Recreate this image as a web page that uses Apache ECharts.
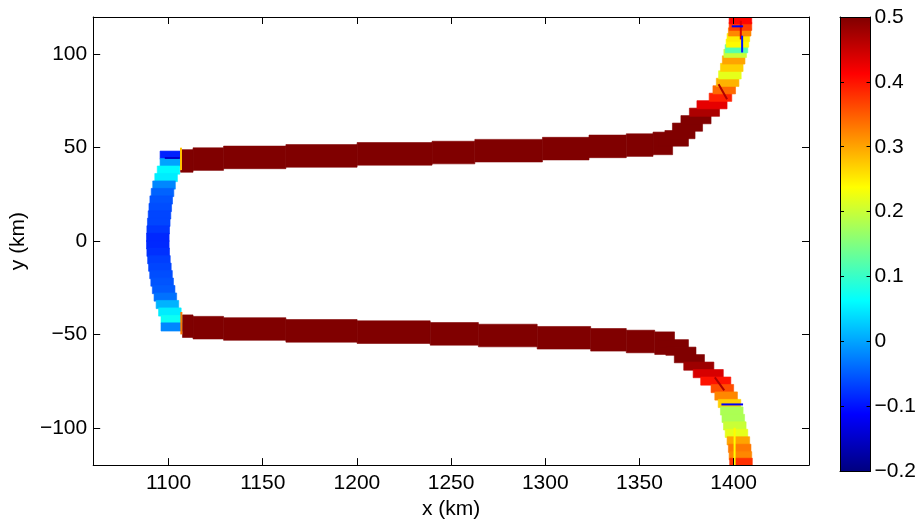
<!DOCTYPE html>
<html><head><meta charset="utf-8">
<script src="https://cdn.jsdelivr.net/npm/echarts@6/dist/echarts.min.js"></script>
<style>html,body{margin:0;padding:0;background:#fff}#c{width:919px;height:525px}</style>
</head><body><div id="c"></div>
<script>
// ---- tick labels ----
const xTicks = [1100, 1150, 1200, 1250, 1300, 1350, 1400];
const yTicks = [-100, -50, 0, 50, 100];
const cbTicks = [-0.2, -0.1, 0, 0.1, 0.2, 0.3, 0.4, 0.5];

// ---- upper straight band: blocks [x0, x1], centre y, value ----
const upperX0 = [1106.4, 1113.0, 1129.2, 1162.3, 1200.1, 1239.9, 1262.6, 1298.5, 1323.2, 1343.0, 1357.2];
const upperX1 = [1113.0, 1129.2, 1162.3, 1200.1, 1239.9, 1262.6, 1298.5, 1323.2, 1343.0, 1357.2, 1367.6];
const upperY  = [42.9, 43.9, 44.8, 45.6, 46.7, 47.4, 48.4, 49.5, 50.7, 51.4, 52.3];
const upperV  = [0.5, 0.5, 0.5, 0.5, 0.5, 0.5, 0.5, 0.5, 0.5, 0.5, 0.5];

// ---- lower straight band ----
const lowerX0 = [1107.4, 1113.0, 1129.2, 1162.3, 1200.1, 1238.9, 1264.5, 1295.7, 1324.1, 1343.0, 1358.1];
const lowerX1 = [1113.0, 1129.2, 1162.3, 1200.1, 1238.9, 1264.5, 1295.7, 1324.1, 1343.0, 1358.1, 1368.6];
const lowerY  = [-45.6, -46.4, -47.1, -48.1, -48.8, -49.7, -50.6, -51.8, -52.9, -53.8, -54.7];
const lowerV  = [0.5, 0.5, 0.5, 0.5, 0.5, 0.5, 0.5, 0.5, 0.5, 0.5, 0.5];

// ---- left arc cells: centre x, centre y, value ----
const arcX = [1101.5, 1101.5, 1100, 1098.7, 1097.6, 1096.8, 1096.1, 1095.6, 1095.2, 1094.8, 1094.5, 1094.3,
              1094.3, 1094.5, 1094.9, 1095.4, 1096, 1096.6, 1097.4, 1098.3, 1099.4, 1100.7, 1102, 1102];
const arcY = [46, 42, 38, 34, 30, 26, 22, 18, 14, 10, 6, 2, -2, -6, -10, -14, -18, -22, -26, -30, -34, -38, -42, -46];
const arcV = [-0.09, 0.0, 0.06, 0.05, -0.02, -0.045, -0.055, -0.06, -0.065, -0.065, -0.075, -0.085,
              -0.085, -0.08, -0.07, -0.065, -0.06, -0.055, -0.05, -0.035, 0.01, 0.05, 0.07, -0.02];

// ---- upper bend, diagonal part ----
const udX = [1368, 1371.5, 1375.5, 1380, 1384.5, 1388.5];
const udY = [53, 57, 61, 65, 69, 73];
const udV = [0.5, 0.5, 0.5, 0.5, 0.47, 0.43];
// ---- upper bend, steep part ----
const ubX = [1393, 1395, 1396.8, 1398, 1399, 1400, 1400.8, 1401.5, 1402, 1402.5, 1403.2, 1403.6, 1403.6];
const ubY = [77, 81, 85, 89, 93, 97, 100.5, 103, 106, 109, 112, 115, 118.5];
const ubV = [0.39, 0.34, 0.29, 0.22, 0.27, 0.3, 0.2, 0.12, 0.24, 0.25, 0.32, 0.37, 0.41];

// ---- lower bend, diagonal part ----
const ldX = [1368, 1372, 1376.5, 1381.5, 1386.5, 1390.5];
const ldY = [-55, -59, -63, -67, -71, -75];
const ldV = [0.5, 0.5, 0.5, 0.48, 0.44, 0.4];
// ---- lower bend, steep part ----
const lbX = [1394, 1396, 1397.8, 1399, 1399.8, 1400.6, 1401.5, 1402.5, 1403.2, 1403.6, 1403.9];
const lbY = [-79, -83, -87, -91, -95, -99, -103, -107, -111, -115, -118.5];
const lbV = [0.36, 0.32, 0.27, 0.18, 0.18, 0.2, 0.22, 0.3, 0.33, 0.32, 0.38];

// ---- thin streaks: from (x0,y0) to (x1,y1), value ----
const stX0 = [1106.6, 1106.8, 1098, 1403.8, 1399, 1404.5, 1393.5, 1400.5, 1396.5, 1390];
const stY0 = [38, -38, 44.5, 118, 115, 101, -87.5, -100, 76, -73];
const stX1 = [1106.6, 1106.8, 1106, 1403.8, 1405, 1404.5, 1405, 1400.5, 1392, 1395];
const stY1 = [50, -50, 44.5, 108, 115, 110, -87.5, -120, 84, -80];
const stV  = [0.28, 0.33, -0.15, 0.44, -0.12, -0.1, -0.12, 0.24, 0.47, 0.47];

// ---- drawing ----
const BAND_T = 12.1, CELL_W = 12, DIAG_W = 16, CELL_H = 4.4;
const jet = ['#000080', '#0000ff', '#0080ff', '#00ffff', '#80ff80', '#ffff00', '#ff8000', '#ff0000', '#800000'];
const FONT = "'Liberation Sans', Arial, Helvetica, sans-serif";
const FS = 21;
const minus = s => String(s).replace('-', '\u2212');

function blocks(x0, x1, y, v) { return v.map((val, i) => [val, x0[i], x1[i], y[i]]); }
function cells(x, y, v) { return v.map((val, i) => [val, x[i], y[i]]); }
function streaks(x0, y0, x1, y1, v) { return v.map((val, i) => [val, x0[i], y0[i], x1[i], y1[i]]); }

function rectStyle(api) {
  const c = api.visual('color');
  return { fill: c, stroke: c, lineWidth: 0.6 };
}
function renderBlock(params, api) {
  const p0 = api.coord([api.value(1), api.value(3) + BAND_T / 2]);
  const p1 = api.coord([api.value(2), api.value(3) - BAND_T / 2]);
  return { type: 'rect', shape: { x: p0[0], y: p0[1], width: p1[0] - p0[0], height: p1[1] - p0[1] }, style: rectStyle(api) };
}
const cellRenderer = w => function (params, api) {
  const p0 = api.coord([api.value(1) - w / 2, api.value(2) + CELL_H / 2]);
  const p1 = api.coord([api.value(1) + w / 2, api.value(2) - CELL_H / 2]);
  return { type: 'rect', shape: { x: p0[0], y: p0[1], width: p1[0] - p0[0], height: p1[1] - p0[1] }, style: rectStyle(api) };
};
function renderStreak(params, api) {
  const p0 = api.coord([api.value(1), api.value(2)]);
  const p1 = api.coord([api.value(3), api.value(4)]);
  return { type: 'line', shape: { x1: p0[0], y1: p0[1], x2: p1[0], y2: p1[1] },
    style: { stroke: api.visual('color'), lineWidth: 2 } };
}
function renderColorbar(params, api) {
  const p0 = api.coord([0, cbTicks[cbTicks.length - 1]]);
  const p1 = api.coord([1, cbTicks[0]]);
  const stops = jet.map((c, i) => ({ offset: i / (jet.length - 1), color: c }));
  return { type: 'rect', shape: { x: p0[0], y: p0[1], width: p1[0] - p0[0], height: p1[1] - p0[1] },
    style: { fill: new echarts.graphic.LinearGradient(0, 1, 0, 0, stops) } };
}

const lineStyle = { color: '#000', width: 1 };
const mainX = (pos, labels) => ({
  type: 'value', gridIndex: 0, position: pos, min: 1060, max: 1440, z: 10,
  axisLine: { show: true, onZero: false, lineStyle },
  axisTick: { show: true, inside: true, length: 7, customValues: xTicks, lineStyle },
  axisLabel: { show: labels, customValues: xTicks, color: '#000', fontSize: FS, fontFamily: FONT, margin: 8,
    formatter: v => String(v) },
  splitLine: { show: false },
  name: labels ? 'x (km)' : '', nameLocation: 'middle', nameGap: 32,
  nameTextStyle: { color: '#000', fontSize: FS, fontFamily: FONT }
});
const mainY = (pos, labels) => ({
  type: 'value', gridIndex: 0, position: pos, min: -120, max: 120, z: 10,
  axisLine: { show: true, onZero: false, lineStyle },
  axisTick: { show: true, inside: true, length: 7, customValues: yTicks, lineStyle },
  axisLabel: { show: labels, customValues: yTicks, color: '#000', fontSize: FS, fontFamily: FONT, margin: 6,
    formatter: v => minus(String(v)) },
  splitLine: { show: false },
  name: labels ? 'y (km)' : '', nameLocation: 'middle', nameGap: 57, nameRotate: 90,
  nameTextStyle: { color: '#000', fontSize: FS, fontFamily: FONT }
});
const cbX = pos => ({
  type: 'value', gridIndex: 1, position: pos, min: 0, max: 1, z: 10,
  axisLine: { show: true, onZero: false, lineStyle },
  axisTick: { show: false }, axisLabel: { show: false }, splitLine: { show: false }
});
const cbY = (pos, labels) => ({
  type: 'value', gridIndex: 1, position: pos, min: cbTicks[0], max: cbTicks[cbTicks.length - 1], z: 10,
  axisLine: { show: true, onZero: false, lineStyle },
  axisTick: { show: true, inside: true, length: 4, customValues: cbTicks, lineStyle },
  axisLabel: { show: labels, customValues: cbTicks, color: '#000', fontSize: FS, fontFamily: FONT, margin: 4,
    formatter: v => minus(Math.abs(v) < 1e-9 ? '0' : (+v).toFixed(1)) },
  splitLine: { show: false }
});

const custom = (data, render, enc) => ({
  type: 'custom', xAxisIndex: 0, yAxisIndex: 0, clip: true, renderItem: render, data: data,
  encode: enc, silent: true, animation: false
});

const chart = echarts.init(document.getElementById('c'), null, { renderer: 'canvas' });
chart.setOption({
  animation: false,
  backgroundColor: '#fff',
  grid: [
    { left: 92, top: 17, width: 717, height: 454 },
    { left: 840, top: 17, width: 41, height: 454 }
  ],
  xAxis: [mainX('bottom', true), mainX('top', false), cbX('bottom'), cbX('top')],
  yAxis: [mainY('left', true), mainY('right', false), cbY('right', true), cbY('left', false)],
  visualMap: {
    show: false, type: 'continuous', min: cbTicks[0], max: cbTicks[cbTicks.length - 1], dimension: 0,
    seriesIndex: [0, 1, 2, 3, 4, 5, 6, 7], inRange: { color: jet }
  },
  series: [
    custom(cells(arcX, arcY, arcV), cellRenderer(CELL_W), { x: 1, y: 2 }),
    custom(blocks(upperX0, upperX1, upperY, upperV), renderBlock, { x: [1, 2], y: 3 }),
    custom(blocks(lowerX0, lowerX1, lowerY, lowerV), renderBlock, { x: [1, 2], y: 3 }),
    custom(cells(udX, udY, udV), cellRenderer(DIAG_W), { x: 1, y: 2 }),
    custom(cells(ubX, ubY, ubV), cellRenderer(CELL_W), { x: 1, y: 2 }),
    custom(cells(ldX, ldY, ldV), cellRenderer(DIAG_W), { x: 1, y: 2 }),
    custom(cells(lbX, lbY, lbV), cellRenderer(CELL_W), { x: 1, y: 2 }),
    custom(streaks(stX0, stY0, stX1, stY1, stV), renderStreak, { x: [1, 3], y: [2, 4] }),
    { type: 'custom', xAxisIndex: 2, yAxisIndex: 2, renderItem: renderColorbar, data: [[0]], silent: true, animation: false }
  ]
});
</script>
</body></html>
